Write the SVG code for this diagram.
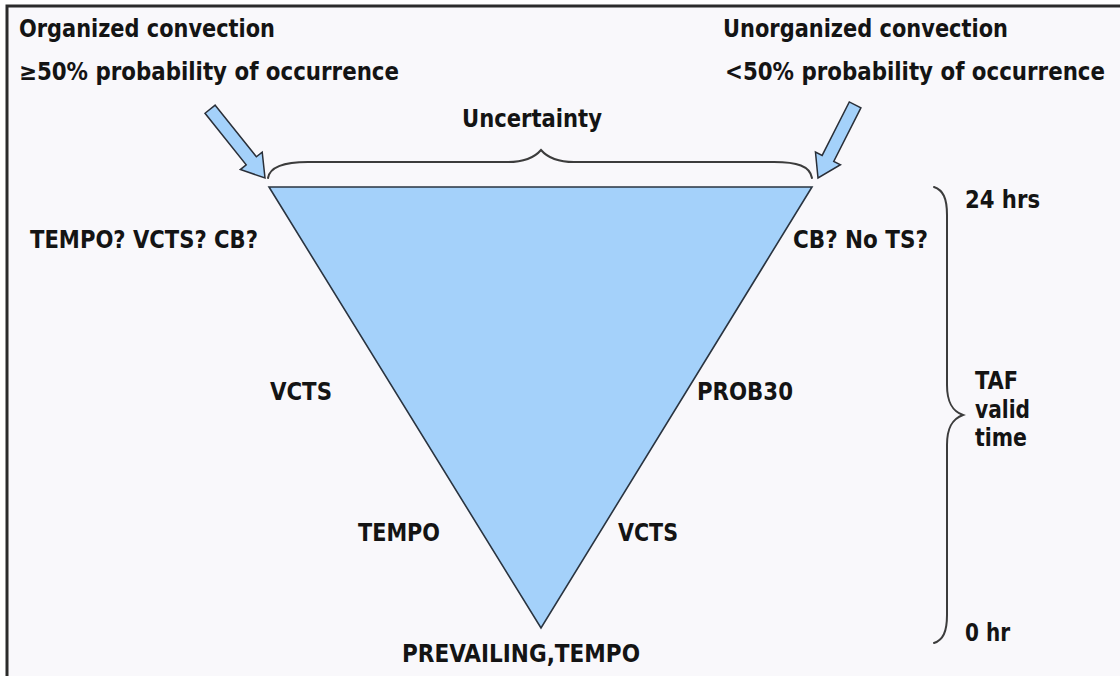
<svg xmlns="http://www.w3.org/2000/svg" width="1120" height="676" viewBox="0 0 1120 676">
  <style>
    .t { font-family: "DejaVu Sans Condensed", "DejaVu Sans", "Liberation Sans", sans-serif; font-size: 24px; font-weight: bold; fill: #141414; }
    .brace { fill: none; stroke: #3c3c3c; stroke-width: 2; stroke-linecap: round; }
    .arrow { fill: #a4d1fa; stroke: #2a2f38; stroke-width: 1.5; stroke-linejoin: miter; }
  </style>

  <!-- page and frame -->
  <rect x="0" y="0" width="1120" height="676" fill="#ffffff"/>
  <rect x="7" y="6" width="1200" height="800" fill="#f9f8fb" stroke="#2b2b2b" stroke-width="3"/>

  <!-- headings -->
  <g id="organized">
    <text class="t" x="19" y="37" textLength="256" lengthAdjust="spacingAndGlyphs">Organized convection</text>
    <text class="t" x="19" y="80" textLength="380" lengthAdjust="spacingAndGlyphs">≥50% probability of occurrence</text>
  </g>
  <g id="unorganized">
    <text class="t" x="723" y="37" textLength="285" lengthAdjust="spacingAndGlyphs">Unorganized convection</text>
    <text class="t" x="725" y="80" textLength="380" lengthAdjust="spacingAndGlyphs">&lt;50% probability of occurrence</text>
  </g>

  <!-- uncertainty cone -->
  <g id="cone">
    <polygon points="269,187 812,187 541,628" fill="#a4d1fa" stroke="#2a3440" stroke-width="1.6" stroke-linejoin="miter"/>
  </g>

  <!-- connectors: pointer arrows and braces -->
  <g id="connectors">
    <g transform="translate(265,178) rotate(51.4) translate(-88,0)">
      <polygon class="arrow" points="0,-6.5 66,-6.5 66,-14 88,0 66,14 66,6.5 0,6.5"/>
    </g>
    <g transform="translate(818,178) rotate(116.9) translate(-82,0)">
      <polygon class="arrow" points="0,-6.5 60,-6.5 60,-14 82,0 60,14 60,6.5 0,6.5"/>
    </g>
    <!-- horizontal brace over the cone -->
    <path class="brace" d="M268,178 C270,166 285,162 308,162 L508,162 C525,162 535,157 541,150 C547,157 557,162 574,162 L774,162 C797,162 810,166 812,178"/>
    <!-- vertical brace: TAF valid time -->
    <path class="brace" d="M934,187 C943,190 947,198 947,215 L947,385 C947,402 952,411 963,415 C952,419 947,428 947,445 L947,615 C947,632 943,640 934,643"/>
  </g>

  <g id="labels">
    <text class="t" x="462" y="127" textLength="140" lengthAdjust="spacingAndGlyphs">Uncertainty</text>
    <text class="t" x="965" y="208" textLength="75" lengthAdjust="spacingAndGlyphs">24 hrs</text>
    <text class="t" x="30" y="248" textLength="228" lengthAdjust="spacingAndGlyphs">TEMPO? VCTS? CB?</text>
    <text class="t" x="793" y="248" textLength="135" lengthAdjust="spacingAndGlyphs">CB? No TS?</text>
    <text class="t" x="270" y="400" textLength="62" lengthAdjust="spacingAndGlyphs">VCTS</text>
    <text class="t" x="697" y="400" textLength="96" lengthAdjust="spacingAndGlyphs">PROB30</text>
    <text class="t" x="975" y="389" textLength="43" lengthAdjust="spacingAndGlyphs">TAF</text>
    <text class="t" x="975" y="418" textLength="55" lengthAdjust="spacingAndGlyphs">valid</text>
    <text class="t" x="975" y="446" textLength="52" lengthAdjust="spacingAndGlyphs">time</text>
    <text class="t" x="358" y="541" textLength="82" lengthAdjust="spacingAndGlyphs">TEMPO</text>
    <text class="t" x="618" y="541" textLength="60" lengthAdjust="spacingAndGlyphs">VCTS</text>
    <text class="t" x="965" y="641" textLength="45" lengthAdjust="spacingAndGlyphs">0 hr</text>
    <text class="t" x="402" y="662" textLength="238" lengthAdjust="spacingAndGlyphs">PREVAILING,TEMPO</text>
  </g>
</svg>
